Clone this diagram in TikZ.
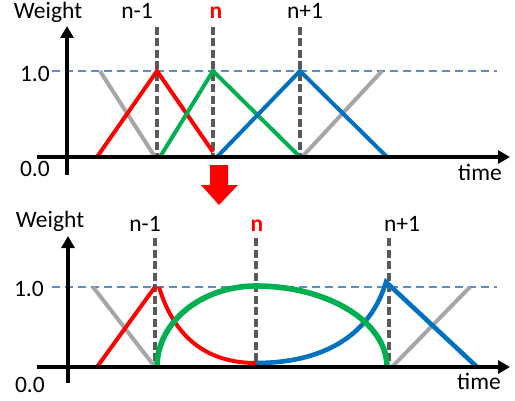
\documentclass[tikz,border=0pt]{standalone}
\usepackage{fontspec}
\setmainfont{Carlito}
\usepackage{xcolor}
\usetikzlibrary{arrows.meta}
\definecolor{wred}{HTML}{FF0000}
\definecolor{wgreen}{HTML}{00B050}
\definecolor{wblue}{HTML}{0070C0}
\definecolor{wgray}{HTML}{A6A6A6}
\definecolor{markgray}{HTML}{595959}
\definecolor{levelblue}{HTML}{5B8BC9}

\begin{document}
\begin{tikzpicture}[
  x=1pt, y=1pt,
  axis/.style={line width=4.8pt, -{Triangle[length=12pt,width=13pt]}},
  frame/.style={line width=3.6pt, dash pattern=on 8pt off 3.5pt, color=markgray},
  level/.style={line width=2.2pt, dash pattern=on 8pt off 5pt, color=levelblue},
  wline/.style={line width=4pt},
  label/.style={font=\fontsize{23.5}{27}\selectfont, inner sep=0pt, anchor=base}
]
  \useasboundingbox (0,0) rectangle (515,400);

  % top panel
  \coordinate (tx0) at (37,243);  \coordinate (tx1) at (510,243);
  \coordinate (ty0) at (67,225);  \coordinate (ty1) at (67,374);
  \coordinate (tl0) at (52,329);  \coordinate (tl1) at (497,329);
  \draw[level] (tl0) -- (tl1);
  \draw[frame] (157,373) -- (157,243);
  \draw[frame] (213,373) -- (213,243);
  \draw[frame] (300,373) -- (300,243);
  \draw[wline, wgray] (100,329) -- (155,243);
  \draw[wline, wgray] (302,243) -- (382,329);
  \draw[wline, wred] (97,243) -- (157,329) -- (213,248);
  \draw[wline, wgreen] (160,243) -- (213,329) -- (300,243);
  \draw[wline, wblue] (217,243) -- (300,329) -- (387,243);
  \draw[axis] (tx0) -- (tx1);
  \draw[axis] (ty0) -- (ty1);

  \node[label] (tweight) at (48,381) {Weight};
  \node[label] (tprev) at (137,381) {n-1};
  \node[label, text=wred] (tcur) at (216,381) {\textbf{n}};
  \node[label] (tnext) at (305,381) {n+1};
  \node[label, anchor=base east] (tone) at (50,318) {1.0};
  \node[label, anchor=base east] (tzero) at (50,223) {0.0};
  \node[label] (ttime) at (480,220) {time};

  % arrow between panels
  \fill[wred] (210,235) -- (228,235) -- (228,215) -- (238,215) -- (219,195)
    -- (201,215) -- (210,215) -- cycle;

  % bottom panel
  \coordinate (bx0) at (37,33);   \coordinate (bx1) at (510,33);
  \coordinate (by0) at (68,17);   \coordinate (by1) at (68,164);
  \coordinate (bl0) at (52,113);  \coordinate (bl1) at (497,113);
  \draw[level] (bl0) -- (bl1);
  \draw[frame] (155,162) -- (155,33);
  \draw[frame] (256,162) -- (256,33);
  \draw[frame] (389,162) -- (389,33);
  \draw[wline, wgray] (93,113) -- (155,33);
  \draw[wline, wgray] (392,33) -- (470,113);
  \draw[wline, wred] (97,33) -- (155,113);
  \draw[wline, wred] (159,113) .. controls (172,70) and (200,37) .. (256,37);
  \draw[line width=4.6pt, wblue] (256,37) .. controls (330,37) and (372,70) .. (386,118)
    -- (477,33);
  \draw[line width=5.6pt, wgreen] (157,33)
    arc[start angle=180, end angle=90, x radius=99, y radius=81]
    arc[start angle=90, end angle=0, x radius=131, y radius=81];
  \draw[axis] (bx0) -- (bx1);
  \draw[axis] (by0) -- (by1);

  \node[label] (bweight) at (50,173) {Weight};
  \node[label] (bprev) at (145,168) {n-1};
  \node[label, text=wred] (bcur) at (257,168) {\textbf{n}};
  \node[label] (bnext) at (402,168) {n+1};
  \node[label, anchor=base east] (bone) at (44,104) {1.0};
  \node[label, anchor=base east] (bzero) at (45,8) {0.0};
  \node[label] (btime) at (479,11) {time};
\end{tikzpicture}
\end{document}
